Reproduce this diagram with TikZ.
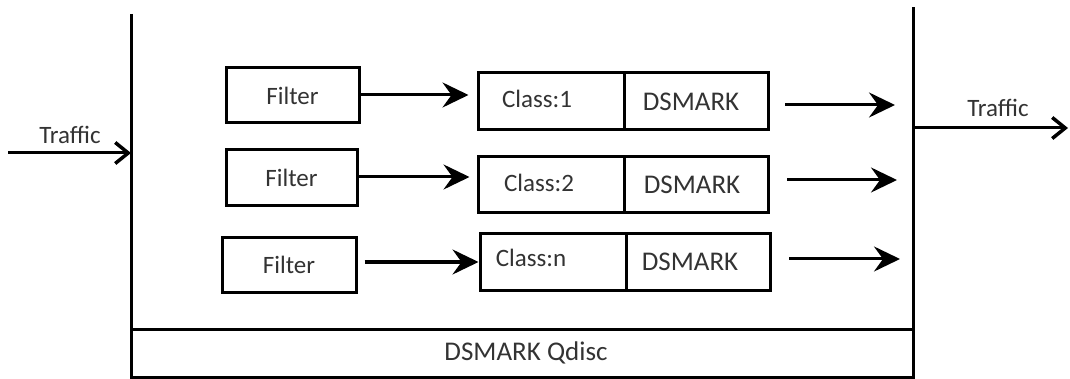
\documentclass[tikz,border=0pt]{standalone}
\usepackage{fontspec}
\setmainfont{Carlito}
\usetikzlibrary{arrows.meta,calc}

\definecolor{ink}{HTML}{333333}

\tikzset{
  wire/.style={line width=3pt, black},
  box/.style={draw=black, line width=3pt, rectangle, inner sep=0pt, fill=white},
  txt/.style={text=ink, inner sep=0pt, font=\fontsize{25}{28}\selectfont},
  bigtxt/.style={txt, font=\fontsize{27}{30}\selectfont},
  flow/.style={wire, -{Stealth[length=26pt,width=25pt,inset=9pt]}},
  feed/.style={wire, -{Straight Barb[length=13pt,width=21pt,line width=3.5pt]}},
}

\begin{document}
\begin{tikzpicture}[x=1pt,y=-1pt]
  \useasboundingbox (0,0) rectangle (1070,379);

  % qdisc frame
  \coordinate (lt) at (131,14);
  \coordinate (lb) at (131,377);
  \coordinate (rt) at (913,7);
  \coordinate (rb) at (913,377);
  \coordinate (ls) at (131,329);
  \coordinate (rs) at (913,329);
  \draw[wire] (lt) -- (lb) -- (rb) -- (rt);
  \draw[wire] (ls) -- (rs);
  \node[txt, font=\fontsize{27}{30}\selectfont] (qdisc) at (526,353) {DSMARK Qdisc};

  % traffic in and out
  \coordinate (inS) at (8,153);
  \coordinate (inE) at (131,153);
  \draw[feed] (inS) -- (inE);
  \node[txt] (tin) at (70,135) {Traffic};

  \coordinate (outS) at (913,128);
  \coordinate (outE) at (1068,128);
  \draw[feed] (outS) -- (outE);
  \node[txt] (tout) at (998,108) {Traffic};

  % filters
  \node[box, minimum width=133pt, minimum height=55pt] (f1) at (292.5,95.5) {};
  \node[box, minimum width=131pt, minimum height=56pt] (f2) at (291.5,178) {};
  \node[box, minimum width=134pt, minimum height=54pt] (f3) at (289,265) {};
  \node[txt] (f1t) at (f1.center) {Filter};
  \node[txt] (f2t) at (f2.center) {Filter};
  \node[txt] (f3t) at (f3.center) {Filter};

  % classes with their DSMARK markers
  \node[box, minimum width=146pt, minimum height=57pt] (c1) at (551,101.5) {};
  \node[box, minimum width=144pt, minimum height=57pt] (d1) at (696,101.5) {};
  \node[box, minimum width=146pt, minimum height=56pt] (c2) at (551,185) {};
  \node[box, minimum width=144pt, minimum height=56pt] (d2) at (696,185) {};
  \node[box, minimum width=146pt, minimum height=56pt] (c3) at (553,262) {};
  \node[box, minimum width=144pt, minimum height=56pt] (d3) at (698,262) {};

  \node[txt] (c1t) at ([xshift=-14pt,yshift=3pt]c1.center) {Class:1};
  \node[txt] (c2t) at ([xshift=-12pt,yshift=2pt]c2.center) {Class:2};
  \node[txt] (c3t) at ([xshift=-22pt,yshift=4pt]c3.center) {Class:n};
  \node[bigtxt] (d1t) at ([xshift=-5pt]d1.center) {DSMARK};
  \node[bigtxt] (d2t) at ([xshift=-4pt]d2.center) {DSMARK};
  \node[bigtxt] (d3t) at ([xshift=-8pt]d3.center) {DSMARK};

  % filter to class
  \draw[flow, shorten >=8pt] (f1.east |- 0,95) -- (c1.west |- 0,95);
  \draw[flow, shorten >=7pt] (f2.east |- 0,177) -- (c2.west |- 0,177);
  \draw[flow, shorten <=7pt] (f3.east |- 0,262) -- (c3.west |- 0,262);

  % marked traffic towards the output
  \coordinate (a1s) at (785,105);
  \coordinate (a1e) at (895,105);
  \coordinate (a2s) at (787,180);
  \coordinate (a2e) at (897,180);
  \coordinate (a3s) at (789,259);
  \coordinate (a3e) at (900,259);
  \draw[flow] (a1s) -- (a1e);
  \draw[flow] (a2s) -- (a2e);
  \draw[flow] (a3s) -- (a3e);
\end{tikzpicture}
\end{document}
